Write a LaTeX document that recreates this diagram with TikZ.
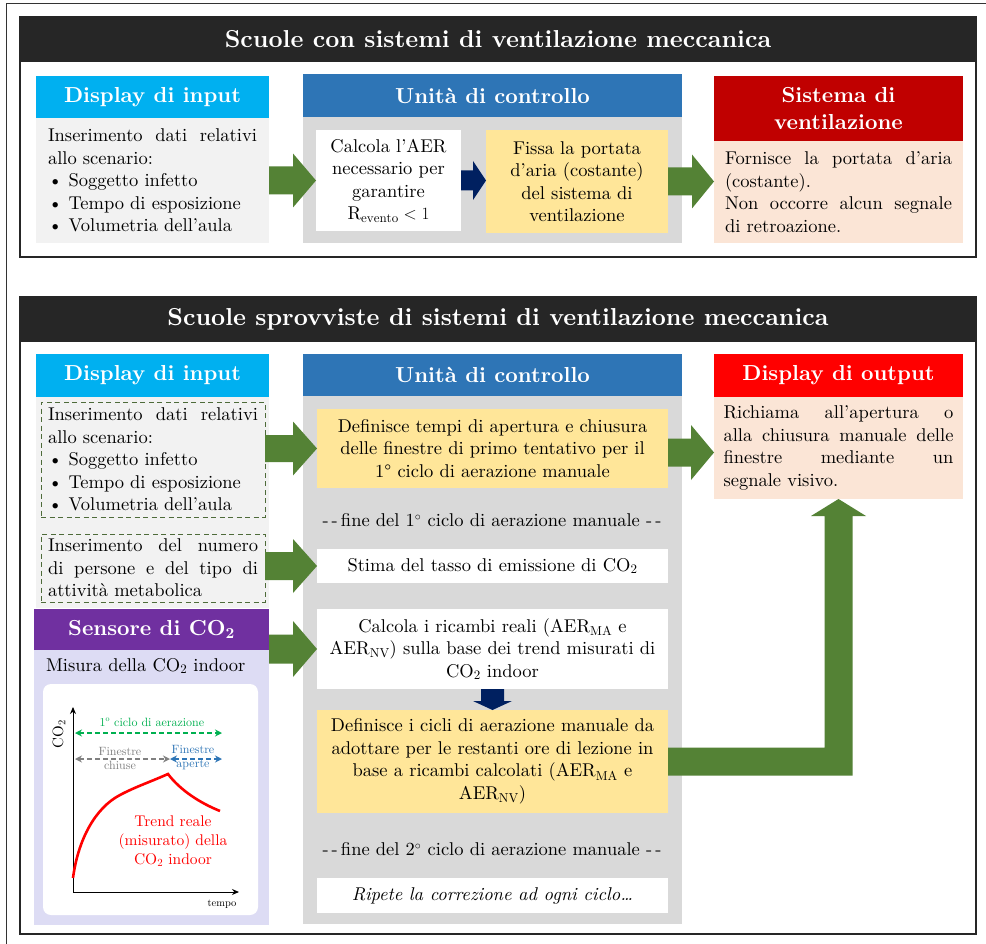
\documentclass[tikz,border=0pt]{standalone}
\usepackage{fontspec}
\setmainfont{lmroman10-regular.otf}[BoldFont=lmroman10-bold.otf,ItalicFont=lmroman10-italic.otf,BoldItalicFont=lmroman10-bolditalic.otf]
\usetikzlibrary{calc,arrows.meta}
\hyphenpenalty=10000
\exhyphenpenalty=10000
\tolerance=9999
\definecolor{titleblack}{HTML}{262626}
\definecolor{dispcyan}{HTML}{00B0F0}
\definecolor{unitblue}{HTML}{2E75B6}
\definecolor{sysred}{HTML}{C00000}
\definecolor{outred}{HTML}{FF0000}
\definecolor{purp}{HTML}{7030A0}
\definecolor{lav}{HTML}{DDDCF4}
\definecolor{lightg}{HTML}{F2F2F2}
\definecolor{graybody}{HTML}{D9D9D9}
\definecolor{yellowbox}{HTML}{FFE699}
\definecolor{peach}{HTML}{FBE5D6}
\definecolor{arrowgreen}{HTML}{548235}
\definecolor{darkblue}{HTML}{002060}
\definecolor{dashgreen}{HTML}{4E6B3A}
\definecolor{labgreen}{HTML}{00B050}
\definecolor{labgray}{HTML}{808080}
\definecolor{labblue}{HTML}{2E75B6}
\newcommand\harrow[6]{%
  \fill[#1] let \p1=#2, \p2=#3 in
  (\x1,\y1+#4pt) -- (\x2-#6pt,\y1+#4pt) -- (\x2-#6pt,\y1+#5pt) -- (\x2,\y1)
  -- (\x2-#6pt,\y1-#5pt) -- (\x2-#6pt,\y1-#4pt) -- (\x1,\y1-#4pt) -- cycle;}
\begin{document}
\begin{tikzpicture}[x=1pt,y=-1pt,
  every node/.style={inner sep=0pt,outer sep=0pt},
  body/.style={font=\fontsize{18.5}{22.5}\selectfont},
  hdr/.style={anchor=north west,text=white,font=\bfseries\fontsize{21.7}{27}\selectfont,align=center},
  ttl/.style={anchor=north west,fill=titleblack,text=white,minimum width=956,minimum height=45,font=\bfseries\fontsize{24.5}{28}\selectfont},
  boxc/.style={anchor=north west,body,align=center},
  boxj/.style={anchor=north west,body,align=justify},
  panel/.style={draw=black!85,line width=1.3},
  dbox/.style={draw=dashgreen,line width=1,dash pattern=on 5pt off 3.5pt},
  small/.style={font=\fontsize{12}{14}\selectfont,align=center},
  garrow/.style={line width=1.3,dash pattern=on 5pt off 3pt,{Stealth[length=7pt,width=7pt]}-{Stealth[length=7pt,width=7pt]}},
]
\useasboundingbox (0,0) rectangle (986,944);
\fill[white] (0,0) rectangle (986,944);
% outer frame (left and top)
\draw[black!80,line width=1] (6,944) -- (6,4) -- (986,4);

% ================= TOP PANEL =================
\node[ttl] (t1) at (20,17) {Scuole con sistemi di ventilazione meccanica};
\draw[panel] (20,17) rectangle (976,257);

\node[hdr,fill=dispcyan,minimum width=233,minimum height=42] (h1) at (36,76) {Display di input};
\node[boxj,fill=lightg,minimum width=233,minimum height=125,text width=209] (b1) at (36,118)
  {Inserimento dati relativi allo scenario:\\ \textbullet\ Soggetto infetto\\ \textbullet\ Tempo di esposizione\\ \textbullet\ Volumetria dell'aula};

\node[hdr,fill=unitblue,minimum width=379,minimum height=43] (u1) at (303,74) {Unità di controllo};
\node[anchor=north west,fill=graybody,minimum width=379,minimum height=126] (ub1) at (303,117) {};
\node[boxc,fill=white,minimum width=145,minimum height=101] (c1) at (316,130)
  {Calcola l'AER\\necessario per\\garantire\\$\mathrm{R_{evento}}<1$};
\node[boxc,fill=yellowbox,minimum width=182,minimum height=103] (f1) at (486,130)
  {Fissa la portata\\d'aria (costante)\\del sistema di\\ventilazione};

\node[hdr,fill=sysred,minimum width=249,minimum height=65] (s1) at (714,76) {Sistema di\\ventilazione};
\node[boxj,fill=peach,minimum width=249,minimum height=102,text width=227] (sb1) at (714,141)
  {Fornisce la portata d'aria (costante).\\Non occorre alcun segnale\linebreak di retroazione.};

\harrow{arrowgreen}{(b1.east)}{(c1.west)}{14}{27}{23}
\harrow{darkblue}{(c1.east)}{(f1.west)}{10}{19.5}{13}
\harrow{arrowgreen}{(f1.east)}{(sb1.west)}{14}{27}{22}

% ================= BOTTOM PANEL =================
\node[ttl] (t2) at (20,297) {Scuole sprovviste di sistemi di ventilazione meccanica};
\draw[panel] (20,297) rectangle (976,934);

% input display
\node[hdr,fill=dispcyan,minimum width=233,minimum height=43] (h2) at (36,354) {Display di input};
\node[anchor=north west,fill=lightg,minimum width=233,minimum height=211] (b2) at (36,397) {};
\node[boxj,dbox,minimum width=224,minimum height=115,text width=210] (d1) at (41,402)
  {Inserimento dati relativi allo scenario:\\ \textbullet\ Soggetto infetto\\ \textbullet\ Tempo di esposizione\\ \textbullet\ Volumetria dell'aula};
\node[boxj,dbox,minimum width=224,minimum height=68,text width=210] (d2) at (41,534)
  {Inserimento del numero di persone e del tipo di attività metabolica};

% CO2 sensor
\node[hdr,fill=purp,minimum width=235,minimum height=41] (sh) at (34,609) {Sensore di CO\textsubscript{2}};
\node[anchor=north west,fill=lav,minimum width=235,minimum height=275] (sb) at (34,650) {};
\node[anchor=west,body] (sm) at (46,666) {Misura della CO\textsubscript{2} indoor};
\node[anchor=north west,fill=white,rounded corners=8,minimum width=215,minimum height=231] (gw) at (43,684) {};

% graph
\coordinate (O) at (73,892);
\coordinate (Ytop) at (73,707);
\coordinate (Xend) at (239,892);
\draw[line width=1,-{Stealth[length=7pt,width=6pt]}] (O) -- (Ytop);
\draw[line width=1,-{Stealth[length=7pt,width=6pt]}] (O) -- (Xend);
\node[rotate=90,font=\fontsize{15}{18}\selectfont] (ylab) at (59,734) {CO\textsubscript{2}};
\node[font=\fontsize{10.5}{12}\selectfont] (xlab) at (222,904) {tempo};
\coordinate (g1) at (75,733);
\coordinate (g2) at (222,733);
\coordinate (k1) at (75,759);
\coordinate (k2) at (170,759);
\coordinate (k3) at (222,759);
\draw[labgreen,garrow] (g1) -- (g2);
\node[small,text=labgreen] (gl) at (152,722) {1\textsuperscript{o} ciclo di aerazione};
\draw[labgray,garrow] (k1) -- (k2);
\draw[labblue,garrow] (k2) -- (k3);
\node[small,text=labgray] (fc) at (120,758) {Finestre\\chiuse};
\node[small,text=labblue] (fa) at (193,758) {Finestre\\aperte};
\draw[red,line width=2.6] (73,878) .. controls (78,840) and (95,808) .. (120,795)
  .. controls (135,787) and (150,782) .. (168,774)
  .. controls (180,790) and (200,803) .. (220,811);
\node[text=red,align=center,font=\fontsize{15.5}{19}\selectfont] (tr) at (173,841)
  {Trend reale\\(misurato) della\\CO\textsubscript{2} indoor};

% control unit
\node[hdr,fill=unitblue,minimum width=379,minimum height=42] (u2) at (303,354) {Unità di controllo};
\node[anchor=north west,fill=graybody,minimum width=379,minimum height=528] (ub2) at (303,396) {};
\node[boxc,fill=yellowbox,minimum width=351,minimum height=79] (y1) at (317,409)
  {Definisce tempi di apertura e chiusura\\delle finestre di primo tentativo per il\\1\textdegree\ ciclo di aerazione manuale};
\node[body] (dl1) at (492,520) {-\,-\,fine del 1$^{\circ}$ ciclo di aerazione manuale -\,-};
\node[boxc,fill=white,minimum width=351,minimum height=34] (st) at (317,549)
  {Stima del tasso di emissione di CO\textsubscript{2}};
\node[boxc,fill=white,minimum width=351,minimum height=80] (c2) at (317,609)
  {Calcola i ricambi reali (AER\textsubscript{MA} e\\AER\textsubscript{NV}) sulla base dei trend misurati di\\CO\textsubscript{2} indoor};
\node[boxc,fill=yellowbox,minimum width=351,minimum height=103] (y2) at (317,710)
  {Definisce i cicli di aerazione manuale da\\adottare per le restanti ore di lezione in\\base a ricambi calcolati (AER\textsubscript{MA} e\\AER\textsubscript{NV})};
\node[body] (dl2) at (492,849) {-\,-\,fine del 2$^{\circ}$ ciclo di aerazione manuale -\,-};
\node[boxc,fill=white,minimum width=351,minimum height=35] (rp) at (317,878)
  {\itshape Ripete la correzione ad ogni ciclo\dots};

% output display
\node[hdr,fill=outred,minimum width=249,minimum height=43] (oh) at (714,354) {Display di output};
\node[boxj,fill=peach,minimum width=249,minimum height=102,text width=230] (ob) at (714,397)
  {Richiama all'apertura o\linebreak alla chiusura manuale delle\linebreak finestre mediante un\linebreak segnale visivo.};

% arrows
\harrow{arrowgreen}{(d1.east |- y1.west)}{(y1.west)}{13.5}{27}{24}
\harrow{arrowgreen}{(d2.east |- st.west)}{(st.west)}{14}{27}{24}
\harrow{arrowgreen}{(sh.east |- c2.west)}{(c2.west)}{14.5}{28}{24}
\harrow{arrowgreen}{($(y1.east)+(0,4)$)}{(ob.west)}{14}{27.5}{23}
\fill[darkblue] let \p1=(c2.south), \p2=(y2.north) in
  (\x1-11.5pt,\y1) -- (\x1-11.5pt,\y2+9pt) -- (\x1-19.5pt,\y2+9pt) -- (\x1,\y2)
  -- (\x1+19.5pt,\y2+9pt) -- (\x1+11.5pt,\y2+9pt) -- (\x1+11.5pt,\y1) -- cycle;
\fill[arrowgreen] let \p1=(y2.east), \p2=(ob.south) in
  (\x1,\y1+14pt) -- (\x2-14pt,\y1+14pt) -- (\x2-14pt,\y2-17pt) -- (\x2-27.5pt,\y2-17pt)
  -- (\x2,\y2) -- (\x2+27.5pt,\y2-17pt) -- (\x2+14pt,\y2-17pt) -- (\x2+14pt,\y1-14pt)
  -- (\x1,\y1-14pt) -- cycle;
\end{tikzpicture}
\end{document}
